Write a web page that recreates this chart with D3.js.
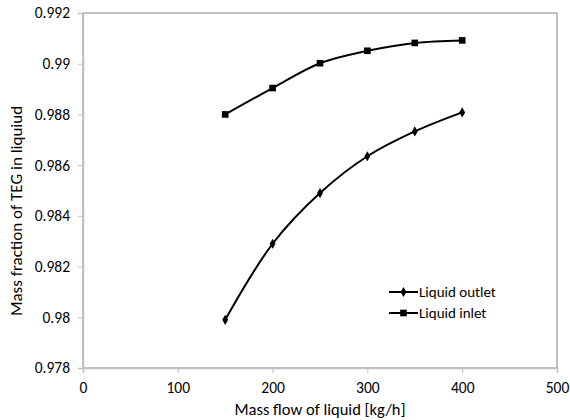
<!DOCTYPE html>
<html lang="en">
<head>
  <meta charset="UTF-8">
  <title>TEG</title>
  <style>
    body { margin: 0; background: #fff; }
    text { font-family: Carlito, "Open Sans", "Liberation Sans", sans-serif; fill: #000; }
  </style>
</head>
<body>
  <div id="main"></div>
  <script src="https://d3js.org/d3.v7.min.js"></script>
  <script>
    // data
    const flows = [150, 200, 250, 300, 350, 400];
    const outlet = [0.9799, 0.9829, 0.9849, 0.98635, 0.98733, 0.98808];
    const inlet = [0.9880, 0.98904, 0.99002, 0.99051, 0.99082, 0.99092];
    const xTicks = [0, 100, 200, 300, 400, 500];
    const yTicks = [0.978, 0.98, 0.982, 0.984, 0.986, 0.988, 0.99, 0.992];

    const [width, height] = [570, 420];
    const m = { left: 83, right: 557, top: 13, bottom: 368 };

    const svg = d3.select('#main').append('svg')
      .attr('width', width)
      .attr('height', height);

    const x = d3.scaleLinear().domain([0, 500]).range([m.left, m.right]);
    const y = d3.scaleLinear().domain([0.978, 0.992]).range([m.bottom, m.top]);

    // plot frame (top/right darker)
    svg.append('rect')
      .attr('x', m.left).attr('y', m.top)
      .attr('width', m.right - m.left).attr('height', m.bottom - m.top)
      .attr('fill', 'none').attr('stroke', '#858585').attr('stroke-width', 1);

    // axes
    const yAxis = svg.append('g')
      .attr('transform', `translate(${m.left},0)`)
      .call(d3.axisLeft(y).tickValues(yTicks).tickFormat(d => +d.toFixed(3)).tickSizeOuter(0).tickSize(5).tickPadding(8));
    const xAxis = svg.append('g')
      .attr('transform', `translate(0,${m.bottom})`)
      .call(d3.axisBottom(x).tickValues(xTicks).tickSizeOuter(0).tickSize(5).tickPadding(9));

    [xAxis, yAxis].forEach(g => {
      g.select('.domain').attr('stroke', '#c0c0c0').attr('stroke-width', 1.5);
      g.selectAll('.tick line').attr('stroke', '#c0c0c0');
      g.selectAll('text').style('font-size', '15.5px').attr('fill', '#000');
    });

    // axis titles
    svg.append('text')
      .attr('x', (m.left + m.right) / 2).attr('y', 415)
      .attr('text-anchor', 'middle').style('font-size', '16.5px')
      .text('Mass flow of liquid [kg/h]');
    svg.append('text')
      .attr('transform', 'translate(22,211) rotate(-90)')
      .attr('text-anchor', 'middle').style('font-size', '17px')
      .text('Mass fraction of TEG in liquiud');

    const line = d3.line()
      .x((d, i) => x(flows[i]))
      .y(d => y(d))
      .curve(d3.curveCatmullRom.alpha(0.5));

    const series = [
      { name: 'Liquid outlet', values: outlet, symbol: d3.symbolDiamond, size: 30 },
      { name: 'Liquid inlet', values: inlet, symbol: d3.symbolSquare, size: 44 }
    ];

    series.forEach(s => {
      svg.append('path')
        .attr('d', line(s.values))
        .attr('fill', 'none').attr('stroke', '#000').attr('stroke-width', 2);
      svg.append('g').selectAll('path')
        .data(s.values).join('path')
        .attr('transform', (d, i) => `translate(${x(flows[i])},${y(d)})`)
        .attr('d', d3.symbol().type(s.symbol).size(s.size))
        .attr('fill', '#000');
    });

    // legend
    const legend = svg.append('g').attr('transform', 'translate(389,292)');
    series.forEach((s, i) => {
      const g = legend.append('g').attr('transform', `translate(0,${i * 21})`);
      g.append('line').attr('x1', 0).attr('x2', 29).attr('y1', 0).attr('y2', 0)
        .attr('stroke', '#000').attr('stroke-width', 2);
      g.append('path').attr('transform', 'translate(14.5,0)')
        .attr('d', d3.symbol().type(s.symbol).size(s.size)).attr('fill', '#000');
      g.append('text').attr('x', 30).attr('y', 0).attr('dy', '0.35em')
        .style('font-size', '15px').text(s.name);
    });
  </script>
</body>
</html>
